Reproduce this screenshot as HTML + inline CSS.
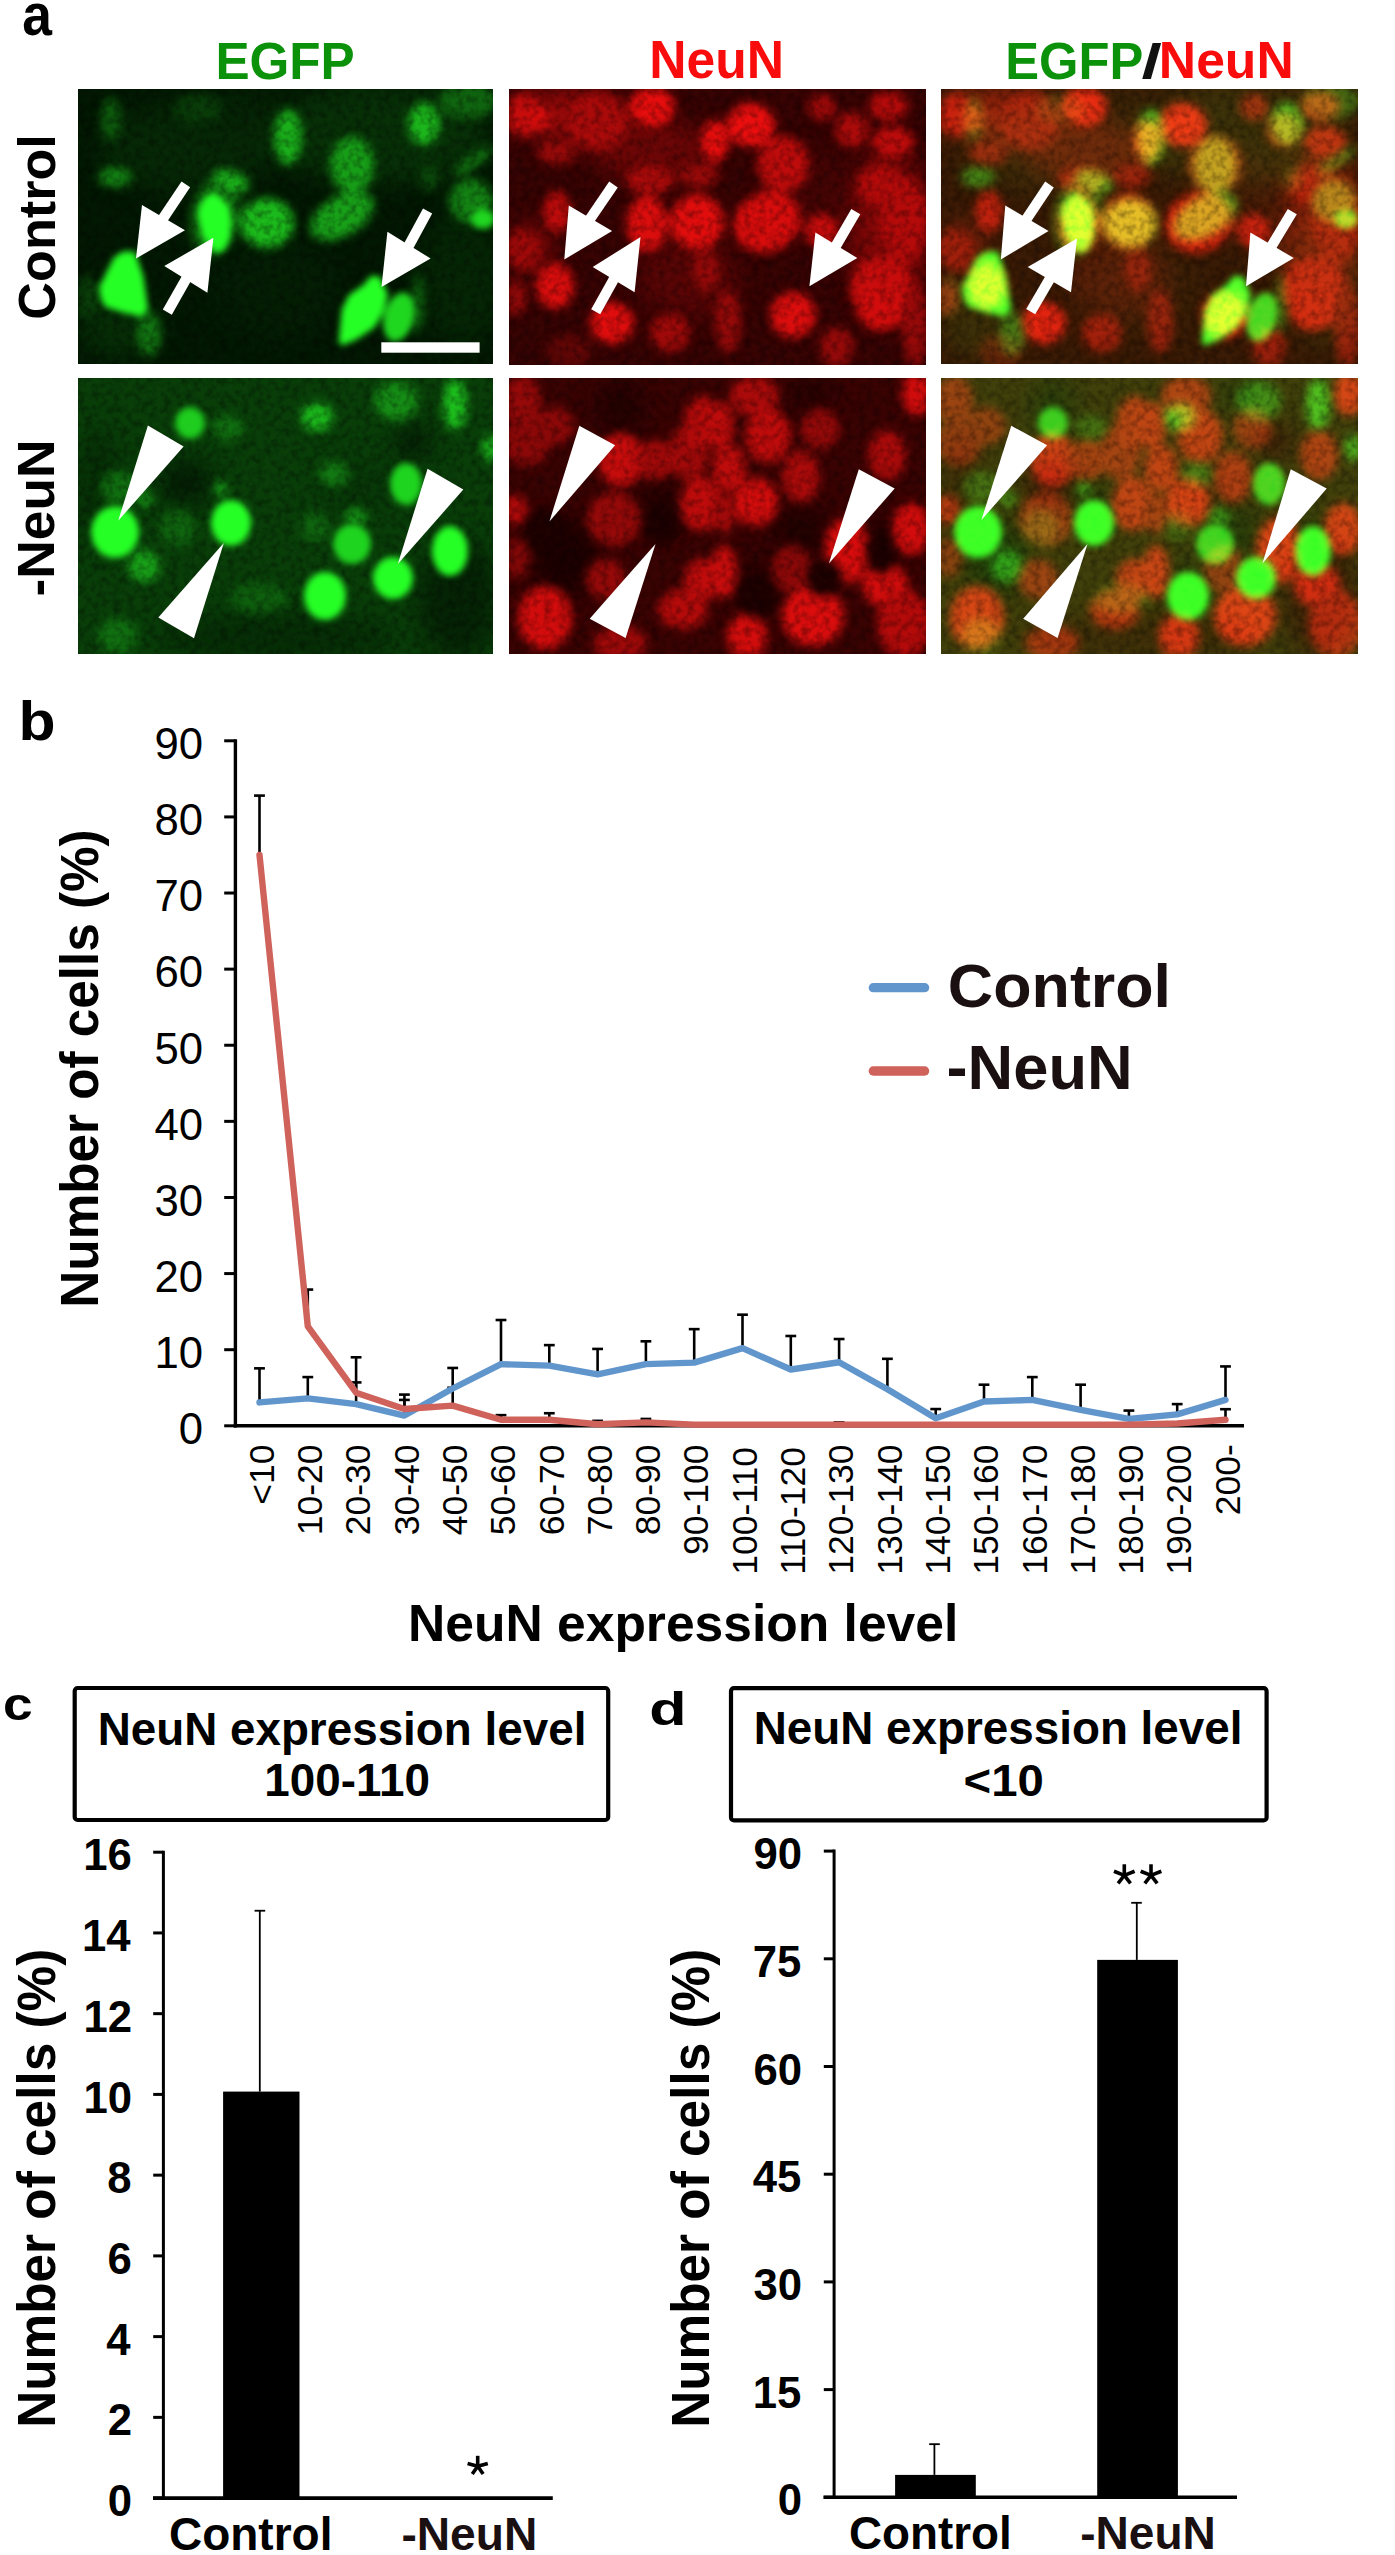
<!DOCTYPE html>
<html><head><meta charset="utf-8"><title>figure</title>
<style>html,body{margin:0;padding:0;background:#fff}body{width:1395px;height:2555px;overflow:hidden}svg{display:block}text{font-family:"Liberation Sans",sans-serif}</style>
</head><body>
<svg width="1395" height="2555" viewBox="0 0 1395 2555">
<rect width="1395" height="2555" fill="#fff"/>
<defs>
<filter id="blurS" x="-20%" y="-20%" width="140%" height="140%" color-interpolation-filters="sRGB"><feGaussianBlur stdDeviation="3.2"/></filter>
<filter id="blurM" x="-20%" y="-20%" width="140%" height="140%" color-interpolation-filters="sRGB"><feGaussianBlur stdDeviation="5"/></filter>
<filter id="blurL" x="-50%" y="-50%" width="200%" height="200%" color-interpolation-filters="sRGB"><feGaussianBlur stdDeviation="12"/></filter>
<filter id="tex" x="0" y="0" width="100%" height="100%"><feTurbulence type="fractalNoise" baseFrequency="0.14" numOctaves="2" seed="5"/><feColorMatrix type="matrix" values="0 0 0 0 0  0 0 0 0 0  0 0 0 0 0  0 0 0 -2.2 1.35"/></filter>
<clipPath id="cp1"><rect x="0" y="0" width="415" height="275"/></clipPath>
<clipPath id="cp2"><rect x="0" y="0" width="417" height="276"/></clipPath>
<clipPath id="cp3"><rect x="0" y="0" width="417" height="275"/></clipPath>
<clipPath id="cp4"><rect x="0" y="0" width="415" height="276"/></clipPath>
</defs>
<g transform="translate(78,89)" clip-path="url(#cp1)"><g><rect x="-10" y="-10" width="435" height="295" fill="rgb(3,24,3)"/>
<g filter="url(#blurL)">
<ellipse cx="110.0" cy="60.0" rx="90.0" ry="45.0" fill="rgb(6,40,6)"/>
<ellipse cx="300.0" cy="45.0" rx="110.0" ry="50.0" fill="rgb(7,48,7)"/>
<ellipse cx="385.0" cy="190.0" rx="40.0" ry="70.0" fill="rgb(5,38,5)"/>
<ellipse cx="40.0" cy="240.0" rx="40.0" ry="30.0" fill="rgb(6,45,6)"/>
<ellipse cx="200.0" cy="200.0" rx="60.0" ry="50.0" fill="rgb(4,30,4)"/>
<ellipse cx="160.0" cy="20.0" rx="60.0" ry="20.0" fill="rgb(5,35,5)"/>
</g><g filter="url(#blurM)">
<ellipse cx="137.0" cy="128.0" rx="24.0" ry="40.0" fill="rgb(16,110,16)" transform="rotate(10 137.0 128.0)"/>
<ellipse cx="153.0" cy="92.0" rx="19.0" ry="10.0" fill="rgb(26,175,26)" transform="rotate(20 153.0 92.0)"/>
<ellipse cx="189.0" cy="134.0" rx="27.0" ry="25.0" fill="rgb(27,185,27)"/>
<ellipse cx="210.0" cy="48.0" rx="14.0" ry="28.0" fill="rgb(26,175,26)"/>
<ellipse cx="274.0" cy="76.0" rx="22.0" ry="28.0" fill="rgb(23,158,23)"/>
<ellipse cx="264.0" cy="127.0" rx="35.0" ry="20.0" fill="rgb(24,160,24)" transform="rotate(-30 264.0 127.0)"/>
<ellipse cx="346.0" cy="35.0" rx="16.0" ry="21.0" fill="rgb(27,182,27)"/>
<ellipse cx="390.0" cy="12.0" rx="30.0" ry="18.0" fill="rgb(15,100,15)"/>
<ellipse cx="393.0" cy="112.0" rx="22.0" ry="22.0" fill="rgb(19,130,19)"/>
<ellipse cx="37.0" cy="88.0" rx="17.0" ry="10.0" fill="rgb(19,130,19)"/>
<ellipse cx="71.0" cy="245.0" rx="12.0" ry="22.0" fill="rgb(17,115,17)"/>
<ellipse cx="340.0" cy="215.0" rx="6.0" ry="30.0" fill="rgb(15,100,15)"/>
<ellipse cx="120.0" cy="20.0" rx="25.0" ry="15.0" fill="rgb(9,60,9)"/>
<ellipse cx="10.0" cy="208.0" rx="12.0" ry="22.0" fill="rgb(9,60,9)"/>
<ellipse cx="33.0" cy="30.0" rx="10.0" ry="22.0" fill="rgb(13,90,13)"/>
<ellipse cx="395.0" cy="72.0" rx="24.0" ry="7.0" fill="rgb(16,110,16)" transform="rotate(-35 395.0 72.0)"/>
<ellipse cx="352.0" cy="88.0" rx="10.0" ry="14.0" fill="rgb(10,70,10)"/>
</g>
<rect x="0" y="0" width="417" height="276" filter="url(#tex)" opacity="0.32"/>
<g filter="url(#blurS)">
<ellipse cx="405.0" cy="130.0" rx="12.0" ry="10.0" fill="rgb(32,215,32)"/>
<ellipse cx="321.0" cy="228.0" rx="15.0" ry="25.0" fill="rgb(32,215,32)" transform="rotate(15 321.0 228.0)"/>
<polygon points="20.9,198.3 35.8,168.5 44.7,162.5 56.7,162.5 59.6,170.0 65.6,187.9 70.1,220.7 64.1,228.1 44.7,223.6 26.8,217.7 22.4,208.7" fill="rgb(38,255,38)"/>
<polygon points="119.3,123.8 123.8,111.8 134.2,102.9 141.6,107.4 150.6,116.3 153.6,131.2 152.1,149.1 146.1,161.0 138.7,164.0 131.2,158.0 123.8,146.1" fill="rgb(38,255,38)"/>
<polygon points="260.7,253.5 263.7,220.7 271.1,205.8 284.5,196.8 293.5,186.4 302.4,187.9 309.9,205.8 305.4,223.6 296.5,238.6 278.6,250.5 263.7,256.4" fill="rgb(38,255,38)"/>
</g></g><polygon points="58.0,169.6 64.0,116.0 107.0,141.3" fill="#fff"/><polygon points="87.6,134.9 112.1,98.3 103.5,92.5 79.0,129.1" fill="#fff"/><polygon points="135.4,148.8 86.3,177.0 129.4,203.8" fill="#fff"/><polygon points="105.3,184.4 84.8,220.5 93.8,225.7 114.3,189.5" fill="#fff"/><polygon points="303.5,197.9 309.4,142.8 352.6,169.6" fill="#fff"/><polygon points="333.7,162.2 354.2,124.5 345.0,119.5 324.5,157.2" fill="#fff"/><rect x="303.3" y="253.3" width="98.3" height="10.4" fill="#fff"/></g>
<g transform="translate(509,89)" clip-path="url(#cp2)"><g><rect x="-10" y="-10" width="437" height="296" fill="rgb(55,3,3)"/>
<g filter="url(#blurL)">
<ellipse cx="60.0" cy="25.0" rx="60.0" ry="25.0" fill="rgb(150,9,9)"/>
<ellipse cx="140.0" cy="60.0" rx="60.0" ry="30.0" fill="rgb(110,6,6)"/>
<ellipse cx="300.0" cy="100.0" rx="40.0" ry="40.0" fill="rgb(70,4,4)"/>
<ellipse cx="180.0" cy="190.0" rx="50.0" ry="40.0" fill="rgb(90,5,5)"/>
<ellipse cx="380.0" cy="140.0" rx="40.0" ry="80.0" fill="rgb(130,7,7)"/>
<ellipse cx="20.0" cy="160.0" rx="25.0" ry="25.0" fill="rgb(120,7,7)"/>
</g><g filter="url(#blurM)">
<ellipse cx="15.0" cy="26.0" rx="17.0" ry="21.0" fill="rgb(200,12,12)"/>
<ellipse cx="33.0" cy="30.0" rx="8.0" ry="10.0" fill="rgb(230,13,13)"/>
<ellipse cx="88.0" cy="33.0" rx="30.0" ry="28.0" fill="rgb(170,10,10)"/>
<ellipse cx="143.0" cy="18.0" rx="23.0" ry="20.0" fill="rgb(230,13,13)"/>
<ellipse cx="206.0" cy="52.0" rx="14.0" ry="21.0" fill="rgb(230,13,13)"/>
<ellipse cx="48.0" cy="63.0" rx="20.0" ry="13.0" fill="rgb(150,9,9)"/>
<ellipse cx="48.0" cy="123.0" rx="14.0" ry="21.0" fill="rgb(190,11,11)"/>
<ellipse cx="138.0" cy="135.0" rx="21.0" ry="28.0" fill="rgb(220,13,13)"/>
<ellipse cx="188.0" cy="133.0" rx="27.0" ry="28.0" fill="rgb(225,13,13)"/>
<ellipse cx="141.0" cy="91.0" rx="24.0" ry="15.0" fill="rgb(170,10,10)"/>
<ellipse cx="190.0" cy="86.0" rx="20.0" ry="13.0" fill="rgb(150,9,9)"/>
<ellipse cx="15.0" cy="160.0" rx="17.0" ry="20.0" fill="rgb(160,9,9)"/>
<ellipse cx="46.0" cy="197.0" rx="19.0" ry="23.0" fill="rgb(220,13,13)"/>
<ellipse cx="103.0" cy="234.0" rx="22.0" ry="21.0" fill="rgb(225,13,13)"/>
<ellipse cx="7.0" cy="209.0" rx="10.0" ry="17.0" fill="rgb(150,9,9)"/>
<ellipse cx="161.0" cy="244.0" rx="20.0" ry="19.0" fill="rgb(160,9,9)"/>
<ellipse cx="197.0" cy="182.0" rx="13.0" ry="20.0" fill="rgb(150,9,9)"/>
<ellipse cx="242.0" cy="36.0" rx="24.0" ry="22.0" fill="rgb(235,14,14)"/>
<ellipse cx="274.0" cy="75.0" rx="26.0" ry="28.0" fill="rgb(190,11,11)"/>
<ellipse cx="258.0" cy="133.0" rx="35.0" ry="30.0" fill="rgb(215,12,12)" transform="rotate(-25 258.0 133.0)"/>
<ellipse cx="379.0" cy="17.0" rx="20.0" ry="15.0" fill="rgb(180,10,10)"/>
<ellipse cx="313.0" cy="18.0" rx="14.0" ry="13.0" fill="rgb(160,9,9)"/>
<ellipse cx="343.0" cy="41.0" rx="17.0" ry="18.0" fill="rgb(170,10,10)"/>
<ellipse cx="384.0" cy="53.0" rx="21.0" ry="16.0" fill="rgb(190,11,11)"/>
<ellipse cx="369.0" cy="95.0" rx="21.0" ry="19.0" fill="rgb(180,10,10)" transform="rotate(-30 369.0 95.0)"/>
<ellipse cx="395.0" cy="131.0" rx="24.0" ry="43.0" fill="rgb(180,10,10)"/>
<ellipse cx="313.0" cy="142.0" rx="17.0" ry="17.0" fill="rgb(200,12,12)"/>
<ellipse cx="373.0" cy="200.0" rx="32.0" ry="32.0" fill="rgb(200,12,12)"/>
<ellipse cx="372.0" cy="221.0" rx="24.0" ry="21.0" fill="rgb(210,12,12)"/>
<ellipse cx="284.0" cy="226.0" rx="23.0" ry="23.0" fill="rgb(220,13,13)" transform="rotate(-30 284.0 226.0)"/>
<ellipse cx="219.0" cy="232.0" rx="13.0" ry="32.0" fill="rgb(150,9,9)"/>
<ellipse cx="328.0" cy="258.0" rx="17.0" ry="20.0" fill="rgb(150,9,9)"/>
<ellipse cx="406.0" cy="236.0" rx="13.0" ry="42.0" fill="rgb(150,9,9)"/>
<ellipse cx="60.0" cy="262.0" rx="22.0" ry="16.0" fill="rgb(100,6,6)"/>
</g>
<rect x="0" y="0" width="417" height="276" filter="url(#tex)" opacity="0.32"/></g><polygon points="55.3,170.4 59.8,116.6 103.1,142.0" fill="#fff"/><polygon points="83.5,135.5 108.8,98.4 100.2,92.6 74.9,129.7" fill="#fff"/><polygon points="131.5,148.0 83.7,177.9 125.6,203.3" fill="#fff"/><polygon points="102.1,184.6 82.2,220.2 91.2,225.2 111.1,189.6" fill="#fff"/><polygon points="300.4,197.3 306.4,143.5 348.3,168.9" fill="#fff"/><polygon points="329.8,162.3 351.3,125.2 342.3,120.0 320.8,157.1" fill="#fff"/></g>
<g transform="translate(941,89)" clip-path="url(#cp3)"><g style="isolation:isolate"><g><rect x="-10" y="-10" width="437" height="296" fill="rgb(55,3,3)"/>
<g filter="url(#blurL)">
<ellipse cx="60.0" cy="25.0" rx="60.0" ry="25.0" fill="rgb(150,9,9)"/>
<ellipse cx="140.0" cy="60.0" rx="60.0" ry="30.0" fill="rgb(110,6,6)"/>
<ellipse cx="300.0" cy="100.0" rx="40.0" ry="40.0" fill="rgb(70,4,4)"/>
<ellipse cx="180.0" cy="190.0" rx="50.0" ry="40.0" fill="rgb(90,5,5)"/>
<ellipse cx="380.0" cy="140.0" rx="40.0" ry="80.0" fill="rgb(130,7,7)"/>
<ellipse cx="20.0" cy="160.0" rx="25.0" ry="25.0" fill="rgb(120,7,7)"/>
</g><g filter="url(#blurM)">
<ellipse cx="15.0" cy="26.0" rx="17.0" ry="21.0" fill="rgb(200,12,12)"/>
<ellipse cx="33.0" cy="30.0" rx="8.0" ry="10.0" fill="rgb(230,13,13)"/>
<ellipse cx="88.0" cy="33.0" rx="30.0" ry="28.0" fill="rgb(170,10,10)"/>
<ellipse cx="143.0" cy="18.0" rx="23.0" ry="20.0" fill="rgb(230,13,13)"/>
<ellipse cx="206.0" cy="52.0" rx="14.0" ry="21.0" fill="rgb(230,13,13)"/>
<ellipse cx="48.0" cy="63.0" rx="20.0" ry="13.0" fill="rgb(150,9,9)"/>
<ellipse cx="48.0" cy="123.0" rx="14.0" ry="21.0" fill="rgb(190,11,11)"/>
<ellipse cx="138.0" cy="135.0" rx="21.0" ry="28.0" fill="rgb(220,13,13)"/>
<ellipse cx="188.0" cy="133.0" rx="27.0" ry="28.0" fill="rgb(225,13,13)"/>
<ellipse cx="141.0" cy="91.0" rx="24.0" ry="15.0" fill="rgb(170,10,10)"/>
<ellipse cx="190.0" cy="86.0" rx="20.0" ry="13.0" fill="rgb(150,9,9)"/>
<ellipse cx="15.0" cy="160.0" rx="17.0" ry="20.0" fill="rgb(160,9,9)"/>
<ellipse cx="46.0" cy="197.0" rx="19.0" ry="23.0" fill="rgb(220,13,13)"/>
<ellipse cx="103.0" cy="234.0" rx="22.0" ry="21.0" fill="rgb(225,13,13)"/>
<ellipse cx="7.0" cy="209.0" rx="10.0" ry="17.0" fill="rgb(150,9,9)"/>
<ellipse cx="161.0" cy="244.0" rx="20.0" ry="19.0" fill="rgb(160,9,9)"/>
<ellipse cx="197.0" cy="182.0" rx="13.0" ry="20.0" fill="rgb(150,9,9)"/>
<ellipse cx="242.0" cy="36.0" rx="24.0" ry="22.0" fill="rgb(235,14,14)"/>
<ellipse cx="274.0" cy="75.0" rx="26.0" ry="28.0" fill="rgb(190,11,11)"/>
<ellipse cx="258.0" cy="133.0" rx="35.0" ry="30.0" fill="rgb(215,12,12)" transform="rotate(-25 258.0 133.0)"/>
<ellipse cx="379.0" cy="17.0" rx="20.0" ry="15.0" fill="rgb(180,10,10)"/>
<ellipse cx="313.0" cy="18.0" rx="14.0" ry="13.0" fill="rgb(160,9,9)"/>
<ellipse cx="343.0" cy="41.0" rx="17.0" ry="18.0" fill="rgb(170,10,10)"/>
<ellipse cx="384.0" cy="53.0" rx="21.0" ry="16.0" fill="rgb(190,11,11)"/>
<ellipse cx="369.0" cy="95.0" rx="21.0" ry="19.0" fill="rgb(180,10,10)" transform="rotate(-30 369.0 95.0)"/>
<ellipse cx="395.0" cy="131.0" rx="24.0" ry="43.0" fill="rgb(180,10,10)"/>
<ellipse cx="313.0" cy="142.0" rx="17.0" ry="17.0" fill="rgb(200,12,12)"/>
<ellipse cx="373.0" cy="200.0" rx="32.0" ry="32.0" fill="rgb(200,12,12)"/>
<ellipse cx="372.0" cy="221.0" rx="24.0" ry="21.0" fill="rgb(210,12,12)"/>
<ellipse cx="284.0" cy="226.0" rx="23.0" ry="23.0" fill="rgb(220,13,13)" transform="rotate(-30 284.0 226.0)"/>
<ellipse cx="219.0" cy="232.0" rx="13.0" ry="32.0" fill="rgb(150,9,9)"/>
<ellipse cx="328.0" cy="258.0" rx="17.0" ry="20.0" fill="rgb(150,9,9)"/>
<ellipse cx="406.0" cy="236.0" rx="13.0" ry="42.0" fill="rgb(150,9,9)"/>
<ellipse cx="60.0" cy="262.0" rx="22.0" ry="16.0" fill="rgb(100,6,6)"/>
</g>
<rect x="0" y="0" width="417" height="276" filter="url(#tex)" opacity="0.32"/></g><g style="mix-blend-mode:screen"><rect x="-10" y="-10" width="435" height="295" fill="rgb(3,24,3)"/>
<g filter="url(#blurL)">
<ellipse cx="110.0" cy="60.0" rx="90.0" ry="45.0" fill="rgb(6,40,6)"/>
<ellipse cx="300.0" cy="45.0" rx="110.0" ry="50.0" fill="rgb(7,48,7)"/>
<ellipse cx="385.0" cy="190.0" rx="40.0" ry="70.0" fill="rgb(5,38,5)"/>
<ellipse cx="40.0" cy="240.0" rx="40.0" ry="30.0" fill="rgb(6,45,6)"/>
<ellipse cx="200.0" cy="200.0" rx="60.0" ry="50.0" fill="rgb(4,30,4)"/>
<ellipse cx="160.0" cy="20.0" rx="60.0" ry="20.0" fill="rgb(5,35,5)"/>
</g><g filter="url(#blurM)">
<ellipse cx="137.0" cy="128.0" rx="24.0" ry="40.0" fill="rgb(16,110,16)" transform="rotate(10 137.0 128.0)"/>
<ellipse cx="153.0" cy="92.0" rx="19.0" ry="10.0" fill="rgb(26,175,26)" transform="rotate(20 153.0 92.0)"/>
<ellipse cx="189.0" cy="134.0" rx="27.0" ry="25.0" fill="rgb(27,185,27)"/>
<ellipse cx="210.0" cy="48.0" rx="14.0" ry="28.0" fill="rgb(26,175,26)"/>
<ellipse cx="274.0" cy="76.0" rx="22.0" ry="28.0" fill="rgb(23,158,23)"/>
<ellipse cx="264.0" cy="127.0" rx="35.0" ry="20.0" fill="rgb(24,160,24)" transform="rotate(-30 264.0 127.0)"/>
<ellipse cx="346.0" cy="35.0" rx="16.0" ry="21.0" fill="rgb(27,182,27)"/>
<ellipse cx="390.0" cy="12.0" rx="30.0" ry="18.0" fill="rgb(15,100,15)"/>
<ellipse cx="393.0" cy="112.0" rx="22.0" ry="22.0" fill="rgb(19,130,19)"/>
<ellipse cx="37.0" cy="88.0" rx="17.0" ry="10.0" fill="rgb(19,130,19)"/>
<ellipse cx="71.0" cy="245.0" rx="12.0" ry="22.0" fill="rgb(17,115,17)"/>
<ellipse cx="340.0" cy="215.0" rx="6.0" ry="30.0" fill="rgb(15,100,15)"/>
<ellipse cx="120.0" cy="20.0" rx="25.0" ry="15.0" fill="rgb(9,60,9)"/>
<ellipse cx="10.0" cy="208.0" rx="12.0" ry="22.0" fill="rgb(9,60,9)"/>
<ellipse cx="33.0" cy="30.0" rx="10.0" ry="22.0" fill="rgb(13,90,13)"/>
<ellipse cx="395.0" cy="72.0" rx="24.0" ry="7.0" fill="rgb(16,110,16)" transform="rotate(-35 395.0 72.0)"/>
<ellipse cx="352.0" cy="88.0" rx="10.0" ry="14.0" fill="rgb(10,70,10)"/>
</g>
<rect x="0" y="0" width="417" height="276" filter="url(#tex)" opacity="0.32"/>
<g filter="url(#blurS)">
<ellipse cx="405.0" cy="130.0" rx="12.0" ry="10.0" fill="rgb(32,215,32)"/>
<ellipse cx="321.0" cy="228.0" rx="15.0" ry="25.0" fill="rgb(32,215,32)" transform="rotate(15 321.0 228.0)"/>
<polygon points="20.9,198.3 35.8,168.5 44.7,162.5 56.7,162.5 59.6,170.0 65.6,187.9 70.1,220.7 64.1,228.1 44.7,223.6 26.8,217.7 22.4,208.7" fill="rgb(38,255,38)"/>
<polygon points="119.3,123.8 123.8,111.8 134.2,102.9 141.6,107.4 150.6,116.3 153.6,131.2 152.1,149.1 146.1,161.0 138.7,164.0 131.2,158.0 123.8,146.1" fill="rgb(38,255,38)"/>
<polygon points="260.7,253.5 263.7,220.7 271.1,205.8 284.5,196.8 293.5,186.4 302.4,187.9 309.9,205.8 305.4,223.6 296.5,238.6 278.6,250.5 263.7,256.4" fill="rgb(38,255,38)"/>
</g></g></g><polygon points="59.8,170.4 64.3,116.6 107.6,142.0" fill="#fff"/><polygon points="88.1,135.5 112.8,98.4 104.2,92.6 79.4,129.7" fill="#fff"/><polygon points="136.0,149.5 86.7,177.9 130.0,203.3" fill="#fff"/><polygon points="105.9,184.5 85.2,220.1 94.2,225.3 114.9,189.8" fill="#fff"/><polygon points="305.0,197.3 309.4,143.5 352.8,168.9" fill="#fff"/><polygon points="333.5,162.3 355.8,125.3 346.8,119.9 324.6,156.9" fill="#fff"/></g>
<g transform="translate(78,378)" clip-path="url(#cp4)"><g><rect x="-10" y="-10" width="435" height="296" fill="rgb(9,62,9)"/>
<g filter="url(#blurL)">
<ellipse cx="108.0" cy="104.0" rx="26.0" ry="22.0" fill="rgb(4,28,4)"/>
<ellipse cx="380.0" cy="220.0" rx="40.0" ry="60.0" fill="rgb(5,35,5)"/>
<ellipse cx="200.0" cy="260.0" rx="120.0" ry="25.0" fill="rgb(6,45,6)"/>
<ellipse cx="20.0" cy="110.0" rx="20.0" ry="60.0" fill="rgb(6,45,6)"/>
<ellipse cx="335.0" cy="64.0" rx="14.0" ry="18.0" fill="rgb(3,20,3)"/>
<ellipse cx="280.0" cy="110.0" rx="40.0" ry="30.0" fill="rgb(8,55,8)"/>
</g><g filter="url(#blurM)">
<ellipse cx="66.0" cy="188.0" rx="16.0" ry="16.0" fill="rgb(24,160,24)"/>
<ellipse cx="150.0" cy="50.0" rx="16.0" ry="13.0" fill="rgb(16,110,16)"/>
<ellipse cx="41.0" cy="110.0" rx="19.0" ry="17.0" fill="rgb(16,110,16)"/>
<ellipse cx="67.0" cy="121.0" rx="8.0" ry="9.0" fill="rgb(21,140,21)"/>
<ellipse cx="100.0" cy="150.0" rx="18.0" ry="18.0" fill="rgb(15,100,15)"/>
<ellipse cx="143.0" cy="111.0" rx="6.0" ry="8.0" fill="rgb(24,160,24)"/>
<ellipse cx="40.0" cy="258.0" rx="20.0" ry="18.0" fill="rgb(16,110,16)"/>
<ellipse cx="180.0" cy="220.0" rx="30.0" ry="15.0" fill="rgb(14,95,14)"/>
<ellipse cx="239.0" cy="39.0" rx="16.0" ry="14.0" fill="rgb(27,185,27)"/>
<ellipse cx="318.0" cy="23.0" rx="22.0" ry="20.0" fill="rgb(21,140,21)"/>
<ellipse cx="377.0" cy="26.0" rx="12.0" ry="26.0" fill="rgb(28,190,28)"/>
<ellipse cx="278.0" cy="139.0" rx="11.0" ry="9.0" fill="rgb(22,150,22)"/>
<ellipse cx="412.0" cy="70.0" rx="8.0" ry="13.0" fill="rgb(27,180,27)"/>
<ellipse cx="256.0" cy="96.0" rx="15.0" ry="13.0" fill="rgb(18,120,18)"/>
<ellipse cx="237.0" cy="149.0" rx="15.0" ry="15.0" fill="rgb(15,100,15)"/>
</g>
<rect x="0" y="0" width="417" height="276" filter="url(#tex)" opacity="0.32"/>
<g filter="url(#blurS)">
<ellipse cx="37.0" cy="154.0" rx="24.0" ry="26.0" fill="rgb(38,255,38)"/>
<ellipse cx="153.0" cy="145.0" rx="20.0" ry="23.0" fill="rgb(38,255,38)"/>
<ellipse cx="112.0" cy="45.0" rx="15.0" ry="16.0" fill="rgb(30,205,30)"/>
<ellipse cx="328.0" cy="106.0" rx="16.0" ry="21.0" fill="rgb(31,212,31)"/>
<ellipse cx="274.0" cy="166.0" rx="19.0" ry="20.0" fill="rgb(31,212,31)"/>
<ellipse cx="247.0" cy="218.0" rx="21.0" ry="24.0" fill="rgb(38,255,38)"/>
<ellipse cx="315.0" cy="200.0" rx="20.0" ry="21.0" fill="rgb(38,255,38)"/>
<ellipse cx="372.0" cy="173.0" rx="18.0" ry="25.0" fill="rgb(38,255,38)"/>
</g></g><polygon points="69.9,47.6 105.6,68.4 40.2,142.8" fill="#fff"/><polygon points="80.3,239.5 116.0,260.3 145.8,165.1" fill="#fff"/><polygon points="349.6,90.7 385.3,111.6 319.8,186.0" fill="#fff"/></g>
<g transform="translate(509,378)" clip-path="url(#cp2)"><g><rect x="-10" y="-10" width="437" height="296" fill="rgb(58,3,3)"/>
<g filter="url(#blurL)">
<ellipse cx="56.0" cy="180.0" rx="34.0" ry="37.0" fill="rgb(28,1,1)"/>
<ellipse cx="112.0" cy="30.0" rx="22.0" ry="30.0" fill="rgb(35,2,2)"/>
<ellipse cx="149.0" cy="123.0" rx="22.0" ry="26.0" fill="rgb(40,2,2)"/>
<ellipse cx="292.0" cy="155.0" rx="27.0" ry="31.0" fill="rgb(35,2,2)"/>
<ellipse cx="376.0" cy="161.0" rx="18.0" ry="26.0" fill="rgb(40,2,2)"/>
<ellipse cx="249.0" cy="210.0" rx="26.0" ry="30.0" fill="rgb(40,2,2)"/>
<ellipse cx="300.0" cy="15.0" rx="25.0" ry="18.0" fill="rgb(40,2,2)"/>
</g><g filter="url(#blurM)">
<ellipse cx="13.0" cy="22.0" rx="19.0" ry="24.0" fill="rgb(150,9,9)"/>
<ellipse cx="45.0" cy="48.0" rx="20.0" ry="19.0" fill="rgb(140,8,8)"/>
<ellipse cx="18.0" cy="64.0" rx="23.0" ry="24.0" fill="rgb(140,8,8)"/>
<ellipse cx="112.0" cy="82.0" rx="23.0" ry="27.0" fill="rgb(200,12,12)"/>
<ellipse cx="146.0" cy="82.0" rx="20.0" ry="20.0" fill="rgb(160,9,9)"/>
<ellipse cx="179.0" cy="75.0" rx="20.0" ry="27.0" fill="rgb(160,9,9)"/>
<ellipse cx="194.0" cy="45.0" rx="19.0" ry="27.0" fill="rgb(180,10,10)"/>
<ellipse cx="192.0" cy="126.0" rx="21.0" ry="27.0" fill="rgb(190,11,11)"/>
<ellipse cx="105.0" cy="141.0" rx="27.0" ry="27.0" fill="rgb(150,9,9)"/>
<ellipse cx="6.0" cy="132.0" rx="12.0" ry="15.0" fill="rgb(180,10,10)"/>
<ellipse cx="36.0" cy="240.0" rx="27.0" ry="32.0" fill="rgb(210,12,12)"/>
<ellipse cx="97.0" cy="201.0" rx="20.0" ry="20.0" fill="rgb(150,9,9)"/>
<ellipse cx="174.0" cy="231.0" rx="25.0" ry="20.0" fill="rgb(180,10,10)"/>
<ellipse cx="194.0" cy="201.0" rx="19.0" ry="20.0" fill="rgb(190,11,11)"/>
<ellipse cx="111.0" cy="265.0" rx="27.0" ry="17.0" fill="rgb(160,9,9)"/>
<ellipse cx="8.0" cy="180.0" rx="13.0" ry="20.0" fill="rgb(130,7,7)"/>
<ellipse cx="245.0" cy="18.0" rx="25.0" ry="20.0" fill="rgb(170,10,10)"/>
<ellipse cx="212.0" cy="48.0" rx="13.0" ry="23.0" fill="rgb(190,11,11)"/>
<ellipse cx="259.0" cy="58.0" rx="23.0" ry="27.0" fill="rgb(190,11,11)"/>
<ellipse cx="220.0" cy="90.0" rx="17.0" ry="23.0" fill="rgb(190,11,11)"/>
<ellipse cx="292.0" cy="99.0" rx="19.0" ry="26.0" fill="rgb(170,10,10)"/>
<ellipse cx="311.0" cy="51.0" rx="19.0" ry="20.0" fill="rgb(150,9,9)"/>
<ellipse cx="247.0" cy="124.0" rx="22.0" ry="24.0" fill="rgb(210,12,12)"/>
<ellipse cx="215.0" cy="135.0" rx="13.0" ry="20.0" fill="rgb(160,9,9)"/>
<ellipse cx="378.0" cy="77.0" rx="19.0" ry="25.0" fill="rgb(170,10,10)"/>
<ellipse cx="408.0" cy="16.0" rx="15.0" ry="22.0" fill="rgb(210,12,12)"/>
<ellipse cx="338.0" cy="172.0" rx="23.0" ry="33.0" fill="rgb(215,12,12)"/>
<ellipse cx="402.0" cy="151.0" rx="19.0" ry="26.0" fill="rgb(210,12,12)"/>
<ellipse cx="376.0" cy="207.0" rx="23.0" ry="22.0" fill="rgb(210,12,12)"/>
<ellipse cx="215.0" cy="194.0" rx="13.0" ry="27.0" fill="rgb(200,12,12)"/>
<ellipse cx="304.0" cy="238.0" rx="31.0" ry="30.0" fill="rgb(220,13,13)"/>
<ellipse cx="238.0" cy="258.0" rx="20.0" ry="23.0" fill="rgb(210,12,12)"/>
<ellipse cx="395.0" cy="246.0" rx="27.0" ry="34.0" fill="rgb(180,10,10)"/>
<ellipse cx="283.0" cy="191.0" rx="20.0" ry="24.0" fill="rgb(140,8,8)"/>
<ellipse cx="37.0" cy="154.0" rx="22.0" ry="24.0" fill="rgb(30,1,1)"/>
<ellipse cx="153.0" cy="145.0" rx="19.0" ry="21.0" fill="rgb(30,1,1)"/>
<ellipse cx="247.0" cy="218.0" rx="19.0" ry="22.0" fill="rgb(30,1,1)"/>
<ellipse cx="315.0" cy="200.0" rx="18.0" ry="19.0" fill="rgb(30,1,1)"/>
<ellipse cx="372.0" cy="173.0" rx="16.0" ry="23.0" fill="rgb(30,1,1)"/>
</g>
<rect x="0" y="0" width="417" height="276" filter="url(#tex)" opacity="0.32"/></g><polygon points="70.3,47.8 106.1,67.3 40.4,143.5" fill="#fff"/><polygon points="80.7,240.7 116.6,260.1 146.5,165.9" fill="#fff"/><polygon points="349.8,91.2 385.7,110.6 319.9,185.4" fill="#fff"/></g>
<g transform="translate(941,378)" clip-path="url(#cp2)"><g style="isolation:isolate"><g><rect x="-10" y="-10" width="437" height="296" fill="rgb(58,3,3)"/>
<g filter="url(#blurL)">
<ellipse cx="56.0" cy="180.0" rx="34.0" ry="37.0" fill="rgb(28,1,1)"/>
<ellipse cx="112.0" cy="30.0" rx="22.0" ry="30.0" fill="rgb(35,2,2)"/>
<ellipse cx="149.0" cy="123.0" rx="22.0" ry="26.0" fill="rgb(40,2,2)"/>
<ellipse cx="292.0" cy="155.0" rx="27.0" ry="31.0" fill="rgb(35,2,2)"/>
<ellipse cx="376.0" cy="161.0" rx="18.0" ry="26.0" fill="rgb(40,2,2)"/>
<ellipse cx="249.0" cy="210.0" rx="26.0" ry="30.0" fill="rgb(40,2,2)"/>
<ellipse cx="300.0" cy="15.0" rx="25.0" ry="18.0" fill="rgb(40,2,2)"/>
</g><g filter="url(#blurM)">
<ellipse cx="13.0" cy="22.0" rx="19.0" ry="24.0" fill="rgb(150,9,9)"/>
<ellipse cx="45.0" cy="48.0" rx="20.0" ry="19.0" fill="rgb(140,8,8)"/>
<ellipse cx="18.0" cy="64.0" rx="23.0" ry="24.0" fill="rgb(140,8,8)"/>
<ellipse cx="112.0" cy="82.0" rx="23.0" ry="27.0" fill="rgb(200,12,12)"/>
<ellipse cx="146.0" cy="82.0" rx="20.0" ry="20.0" fill="rgb(160,9,9)"/>
<ellipse cx="179.0" cy="75.0" rx="20.0" ry="27.0" fill="rgb(160,9,9)"/>
<ellipse cx="194.0" cy="45.0" rx="19.0" ry="27.0" fill="rgb(180,10,10)"/>
<ellipse cx="192.0" cy="126.0" rx="21.0" ry="27.0" fill="rgb(190,11,11)"/>
<ellipse cx="105.0" cy="141.0" rx="27.0" ry="27.0" fill="rgb(150,9,9)"/>
<ellipse cx="6.0" cy="132.0" rx="12.0" ry="15.0" fill="rgb(180,10,10)"/>
<ellipse cx="36.0" cy="240.0" rx="27.0" ry="32.0" fill="rgb(210,12,12)"/>
<ellipse cx="97.0" cy="201.0" rx="20.0" ry="20.0" fill="rgb(150,9,9)"/>
<ellipse cx="174.0" cy="231.0" rx="25.0" ry="20.0" fill="rgb(180,10,10)"/>
<ellipse cx="194.0" cy="201.0" rx="19.0" ry="20.0" fill="rgb(190,11,11)"/>
<ellipse cx="111.0" cy="265.0" rx="27.0" ry="17.0" fill="rgb(160,9,9)"/>
<ellipse cx="8.0" cy="180.0" rx="13.0" ry="20.0" fill="rgb(130,7,7)"/>
<ellipse cx="245.0" cy="18.0" rx="25.0" ry="20.0" fill="rgb(170,10,10)"/>
<ellipse cx="212.0" cy="48.0" rx="13.0" ry="23.0" fill="rgb(190,11,11)"/>
<ellipse cx="259.0" cy="58.0" rx="23.0" ry="27.0" fill="rgb(190,11,11)"/>
<ellipse cx="220.0" cy="90.0" rx="17.0" ry="23.0" fill="rgb(190,11,11)"/>
<ellipse cx="292.0" cy="99.0" rx="19.0" ry="26.0" fill="rgb(170,10,10)"/>
<ellipse cx="311.0" cy="51.0" rx="19.0" ry="20.0" fill="rgb(150,9,9)"/>
<ellipse cx="247.0" cy="124.0" rx="22.0" ry="24.0" fill="rgb(210,12,12)"/>
<ellipse cx="215.0" cy="135.0" rx="13.0" ry="20.0" fill="rgb(160,9,9)"/>
<ellipse cx="378.0" cy="77.0" rx="19.0" ry="25.0" fill="rgb(170,10,10)"/>
<ellipse cx="408.0" cy="16.0" rx="15.0" ry="22.0" fill="rgb(210,12,12)"/>
<ellipse cx="338.0" cy="172.0" rx="23.0" ry="33.0" fill="rgb(215,12,12)"/>
<ellipse cx="402.0" cy="151.0" rx="19.0" ry="26.0" fill="rgb(210,12,12)"/>
<ellipse cx="376.0" cy="207.0" rx="23.0" ry="22.0" fill="rgb(210,12,12)"/>
<ellipse cx="215.0" cy="194.0" rx="13.0" ry="27.0" fill="rgb(200,12,12)"/>
<ellipse cx="304.0" cy="238.0" rx="31.0" ry="30.0" fill="rgb(220,13,13)"/>
<ellipse cx="238.0" cy="258.0" rx="20.0" ry="23.0" fill="rgb(210,12,12)"/>
<ellipse cx="395.0" cy="246.0" rx="27.0" ry="34.0" fill="rgb(180,10,10)"/>
<ellipse cx="283.0" cy="191.0" rx="20.0" ry="24.0" fill="rgb(140,8,8)"/>
<ellipse cx="37.0" cy="154.0" rx="22.0" ry="24.0" fill="rgb(30,1,1)"/>
<ellipse cx="153.0" cy="145.0" rx="19.0" ry="21.0" fill="rgb(30,1,1)"/>
<ellipse cx="247.0" cy="218.0" rx="19.0" ry="22.0" fill="rgb(30,1,1)"/>
<ellipse cx="315.0" cy="200.0" rx="18.0" ry="19.0" fill="rgb(30,1,1)"/>
<ellipse cx="372.0" cy="173.0" rx="16.0" ry="23.0" fill="rgb(30,1,1)"/>
</g>
<rect x="0" y="0" width="417" height="276" filter="url(#tex)" opacity="0.32"/></g><g style="mix-blend-mode:screen"><rect x="-10" y="-10" width="435" height="296" fill="rgb(9,62,9)"/>
<g filter="url(#blurL)">
<ellipse cx="108.0" cy="104.0" rx="26.0" ry="22.0" fill="rgb(4,28,4)"/>
<ellipse cx="380.0" cy="220.0" rx="40.0" ry="60.0" fill="rgb(5,35,5)"/>
<ellipse cx="200.0" cy="260.0" rx="120.0" ry="25.0" fill="rgb(6,45,6)"/>
<ellipse cx="20.0" cy="110.0" rx="20.0" ry="60.0" fill="rgb(6,45,6)"/>
<ellipse cx="335.0" cy="64.0" rx="14.0" ry="18.0" fill="rgb(3,20,3)"/>
<ellipse cx="280.0" cy="110.0" rx="40.0" ry="30.0" fill="rgb(8,55,8)"/>
</g><g filter="url(#blurM)">
<ellipse cx="66.0" cy="188.0" rx="16.0" ry="16.0" fill="rgb(24,160,24)"/>
<ellipse cx="150.0" cy="50.0" rx="16.0" ry="13.0" fill="rgb(16,110,16)"/>
<ellipse cx="41.0" cy="110.0" rx="19.0" ry="17.0" fill="rgb(16,110,16)"/>
<ellipse cx="67.0" cy="121.0" rx="8.0" ry="9.0" fill="rgb(21,140,21)"/>
<ellipse cx="100.0" cy="150.0" rx="18.0" ry="18.0" fill="rgb(15,100,15)"/>
<ellipse cx="143.0" cy="111.0" rx="6.0" ry="8.0" fill="rgb(24,160,24)"/>
<ellipse cx="40.0" cy="258.0" rx="20.0" ry="18.0" fill="rgb(16,110,16)"/>
<ellipse cx="180.0" cy="220.0" rx="30.0" ry="15.0" fill="rgb(14,95,14)"/>
<ellipse cx="239.0" cy="39.0" rx="16.0" ry="14.0" fill="rgb(27,185,27)"/>
<ellipse cx="318.0" cy="23.0" rx="22.0" ry="20.0" fill="rgb(21,140,21)"/>
<ellipse cx="377.0" cy="26.0" rx="12.0" ry="26.0" fill="rgb(28,190,28)"/>
<ellipse cx="278.0" cy="139.0" rx="11.0" ry="9.0" fill="rgb(22,150,22)"/>
<ellipse cx="412.0" cy="70.0" rx="8.0" ry="13.0" fill="rgb(27,180,27)"/>
<ellipse cx="256.0" cy="96.0" rx="15.0" ry="13.0" fill="rgb(18,120,18)"/>
<ellipse cx="237.0" cy="149.0" rx="15.0" ry="15.0" fill="rgb(15,100,15)"/>
</g>
<rect x="0" y="0" width="417" height="276" filter="url(#tex)" opacity="0.32"/>
<g filter="url(#blurS)">
<ellipse cx="37.0" cy="154.0" rx="24.0" ry="26.0" fill="rgb(38,255,38)"/>
<ellipse cx="153.0" cy="145.0" rx="20.0" ry="23.0" fill="rgb(38,255,38)"/>
<ellipse cx="112.0" cy="45.0" rx="15.0" ry="16.0" fill="rgb(30,205,30)"/>
<ellipse cx="328.0" cy="106.0" rx="16.0" ry="21.0" fill="rgb(31,212,31)"/>
<ellipse cx="274.0" cy="166.0" rx="19.0" ry="20.0" fill="rgb(31,212,31)"/>
<ellipse cx="247.0" cy="218.0" rx="21.0" ry="24.0" fill="rgb(38,255,38)"/>
<ellipse cx="315.0" cy="200.0" rx="20.0" ry="21.0" fill="rgb(38,255,38)"/>
<ellipse cx="372.0" cy="173.0" rx="18.0" ry="25.0" fill="rgb(38,255,38)"/>
</g></g></g><polygon points="70.3,47.8 106.1,67.3 40.4,142.0" fill="#fff"/><polygon points="82.2,240.7 116.6,260.1 146.5,165.9" fill="#fff"/><polygon points="349.8,91.2 385.7,110.6 321.4,185.4" fill="#fff"/></g>
<text transform="translate(22.13,35.12) scale(1,1.11)" font-size="53.45" font-weight="bold" fill="#000">a</text>
<text transform="translate(215.38,78.6) scale(1,1)" font-size="51.19" font-weight="bold" fill="#0c910b">EGFP</text>
<text transform="translate(649.15,78.18) scale(1,1.03)" font-size="51.63" font-weight="bold" fill="#f90c0c">NeuN</text>
<text transform="translate(1005.21,78.69) scale(1,1.02)" font-size="50.73" font-weight="bold" fill="#0c910b">EGFP</text>
<text transform="translate(1141.49,77.92) scale(1,0.67)" font-size="73.17" font-weight="bold" fill="#111">/</text>
<text transform="translate(1158.85,78.4)" font-size="51.63" font-weight="bold" fill="#f90c0c">NeuN</text>
<text transform="translate(54.9,319.64) rotate(-90) scale(1,0.98)" font-size="52.19" font-weight="bold" fill="#000">Control</text>
<text transform="translate(53.69,596.48) rotate(-90) scale(1,0.98)" font-size="53.35" font-weight="bold" fill="#000">-NeuN</text>
<text transform="translate(18.4,739.67) scale(1,0.9)" font-size="60.73" font-weight="bold" fill="#000">b</text>
<line x1="235.4" y1="739.3" x2="235.4" y2="1427.5" stroke="#000" stroke-width="3.4" stroke-linecap="butt"/>
<line x1="233.7" y1="1425.8" x2="1244" y2="1425.8" stroke="#000" stroke-width="3.4" stroke-linecap="butt"/>
<line x1="224.2" y1="1425.8" x2="235.4" y2="1425.8" stroke="#000" stroke-width="3" stroke-linecap="butt"/>
<text transform="translate(178.8,1444.1)" font-size="43.7" font-weight="normal" fill="#000">0</text>
<line x1="224.2" y1="1349.69" x2="235.4" y2="1349.69" stroke="#000" stroke-width="3" stroke-linecap="butt"/>
<text transform="translate(154.5,1367.99)" font-size="43.7" font-weight="normal" fill="#000">10</text>
<line x1="224.2" y1="1273.58" x2="235.4" y2="1273.58" stroke="#000" stroke-width="3" stroke-linecap="butt"/>
<text transform="translate(154.5,1291.88)" font-size="43.7" font-weight="normal" fill="#000">20</text>
<line x1="224.2" y1="1197.47" x2="235.4" y2="1197.47" stroke="#000" stroke-width="3" stroke-linecap="butt"/>
<text transform="translate(154.5,1215.77)" font-size="43.7" font-weight="normal" fill="#000">30</text>
<line x1="224.2" y1="1121.36" x2="235.4" y2="1121.36" stroke="#000" stroke-width="3" stroke-linecap="butt"/>
<text transform="translate(154.5,1139.66)" font-size="43.7" font-weight="normal" fill="#000">40</text>
<line x1="224.2" y1="1045.24" x2="235.4" y2="1045.24" stroke="#000" stroke-width="3" stroke-linecap="butt"/>
<text transform="translate(154.5,1063.54)" font-size="43.7" font-weight="normal" fill="#000">50</text>
<line x1="224.2" y1="969.13" x2="235.4" y2="969.13" stroke="#000" stroke-width="3" stroke-linecap="butt"/>
<text transform="translate(154.5,987.43)" font-size="43.7" font-weight="normal" fill="#000">60</text>
<line x1="224.2" y1="893.02" x2="235.4" y2="893.02" stroke="#000" stroke-width="3" stroke-linecap="butt"/>
<text transform="translate(154.5,911.32)" font-size="43.7" font-weight="normal" fill="#000">70</text>
<line x1="224.2" y1="816.91" x2="235.4" y2="816.91" stroke="#000" stroke-width="3" stroke-linecap="butt"/>
<text transform="translate(154.5,835.21)" font-size="43.7" font-weight="normal" fill="#000">80</text>
<line x1="224.2" y1="740.8" x2="235.4" y2="740.8" stroke="#000" stroke-width="3" stroke-linecap="butt"/>
<text transform="translate(154.5,759.1)" font-size="43.7" font-weight="normal" fill="#000">90</text>
<text transform="translate(97.9,1307.63) rotate(-90) scale(1,1.04)" font-size="51.25" font-weight="bold" fill="#000">Number of cells (%)</text>
<text transform="translate(273.75,1504.63) rotate(-90)" font-size="35.5" font-weight="normal" fill="#000">&lt;10</text>
<text transform="translate(322.05,1535.21) rotate(-90)" font-size="35.5" font-weight="normal" fill="#000">10-20</text>
<text transform="translate(370.35,1535.21) rotate(-90)" font-size="35.5" font-weight="normal" fill="#000">20-30</text>
<text transform="translate(418.65,1535.21) rotate(-90)" font-size="35.5" font-weight="normal" fill="#000">30-40</text>
<text transform="translate(466.95,1535.21) rotate(-90)" font-size="35.5" font-weight="normal" fill="#000">40-50</text>
<text transform="translate(515.25,1535.21) rotate(-90)" font-size="35.5" font-weight="normal" fill="#000">50-60</text>
<text transform="translate(563.55,1535.21) rotate(-90)" font-size="35.5" font-weight="normal" fill="#000">60-70</text>
<text transform="translate(611.85,1535.21) rotate(-90)" font-size="35.5" font-weight="normal" fill="#000">70-80</text>
<text transform="translate(660.15,1535.21) rotate(-90)" font-size="35.5" font-weight="normal" fill="#000">80-90</text>
<text transform="translate(708.45,1554.95) rotate(-90)" font-size="35.5" font-weight="normal" fill="#000">90-100</text>
<text transform="translate(756.75,1574.7) rotate(-90)" font-size="35.5" font-weight="normal" fill="#000">100-110</text>
<text transform="translate(805.05,1574.7) rotate(-90)" font-size="35.5" font-weight="normal" fill="#000">110-120</text>
<text transform="translate(853.35,1574.7) rotate(-90)" font-size="35.5" font-weight="normal" fill="#000">120-130</text>
<text transform="translate(901.65,1574.7) rotate(-90)" font-size="35.5" font-weight="normal" fill="#000">130-140</text>
<text transform="translate(949.95,1574.7) rotate(-90)" font-size="35.5" font-weight="normal" fill="#000">140-150</text>
<text transform="translate(998.25,1574.7) rotate(-90)" font-size="35.5" font-weight="normal" fill="#000">150-160</text>
<text transform="translate(1046.55,1574.7) rotate(-90)" font-size="35.5" font-weight="normal" fill="#000">160-170</text>
<text transform="translate(1094.85,1574.7) rotate(-90)" font-size="35.5" font-weight="normal" fill="#000">170-180</text>
<text transform="translate(1143.15,1574.7) rotate(-90)" font-size="35.5" font-weight="normal" fill="#000">180-190</text>
<text transform="translate(1191.45,1574.7) rotate(-90)" font-size="35.5" font-weight="normal" fill="#000">190-200</text>
<text transform="translate(1239.75,1515.27) rotate(-90)" font-size="35.5" font-weight="normal" fill="#000">200-</text>
<text transform="translate(408.05,1641)" font-size="51.57" font-weight="bold" fill="#000">NeuN expression level</text>
<line x1="259.5" y1="1402.43" x2="259.5" y2="1368.34" stroke="#000" stroke-width="2.6" stroke-linecap="butt"/>
<line x1="254.1" y1="1368.34" x2="264.9" y2="1368.34" stroke="#000" stroke-width="2.6" stroke-linecap="butt"/>
<line x1="259.5" y1="854.97" x2="259.5" y2="795.6" stroke="#000" stroke-width="2.6" stroke-linecap="butt"/>
<line x1="254.1" y1="795.6" x2="264.9" y2="795.6" stroke="#000" stroke-width="2.6" stroke-linecap="butt"/>
<line x1="307.8" y1="1398.4" x2="307.8" y2="1377.09" stroke="#000" stroke-width="2.6" stroke-linecap="butt"/>
<line x1="302.4" y1="1377.09" x2="313.2" y2="1377.09" stroke="#000" stroke-width="2.6" stroke-linecap="butt"/>
<line x1="307.8" y1="1326.32" x2="307.8" y2="1289.56" stroke="#000" stroke-width="2.6" stroke-linecap="butt"/>
<line x1="302.4" y1="1289.56" x2="313.2" y2="1289.56" stroke="#000" stroke-width="2.6" stroke-linecap="butt"/>
<line x1="356.1" y1="1404.11" x2="356.1" y2="1357.3" stroke="#000" stroke-width="2.6" stroke-linecap="butt"/>
<line x1="350.7" y1="1357.3" x2="361.5" y2="1357.3" stroke="#000" stroke-width="2.6" stroke-linecap="butt"/>
<line x1="356.1" y1="1392.69" x2="356.1" y2="1382.42" stroke="#000" stroke-width="2.6" stroke-linecap="butt"/>
<line x1="350.7" y1="1382.42" x2="361.5" y2="1382.42" stroke="#000" stroke-width="2.6" stroke-linecap="butt"/>
<line x1="404.4" y1="1415.52" x2="404.4" y2="1394.59" stroke="#000" stroke-width="2.6" stroke-linecap="butt"/>
<line x1="399" y1="1394.59" x2="409.8" y2="1394.59" stroke="#000" stroke-width="2.6" stroke-linecap="butt"/>
<line x1="404.4" y1="1409.06" x2="404.4" y2="1399.92" stroke="#000" stroke-width="2.6" stroke-linecap="butt"/>
<line x1="399" y1="1399.92" x2="409.8" y2="1399.92" stroke="#000" stroke-width="2.6" stroke-linecap="butt"/>
<line x1="452.7" y1="1388.51" x2="452.7" y2="1367.96" stroke="#000" stroke-width="2.6" stroke-linecap="butt"/>
<line x1="447.3" y1="1367.96" x2="458.1" y2="1367.96" stroke="#000" stroke-width="2.6" stroke-linecap="butt"/>
<line x1="452.7" y1="1405.63" x2="452.7" y2="1387.74" stroke="#000" stroke-width="2.6" stroke-linecap="butt"/>
<line x1="447.3" y1="1387.74" x2="458.1" y2="1387.74" stroke="#000" stroke-width="2.6" stroke-linecap="butt"/>
<line x1="501" y1="1364.15" x2="501" y2="1320.01" stroke="#000" stroke-width="2.6" stroke-linecap="butt"/>
<line x1="495.6" y1="1320.01" x2="506.4" y2="1320.01" stroke="#000" stroke-width="2.6" stroke-linecap="butt"/>
<line x1="501" y1="1419.71" x2="501" y2="1415.14" stroke="#000" stroke-width="2.6" stroke-linecap="butt"/>
<line x1="495.6" y1="1415.14" x2="506.4" y2="1415.14" stroke="#000" stroke-width="2.6" stroke-linecap="butt"/>
<line x1="549.3" y1="1365.67" x2="549.3" y2="1345.12" stroke="#000" stroke-width="2.6" stroke-linecap="butt"/>
<line x1="543.9" y1="1345.12" x2="554.7" y2="1345.12" stroke="#000" stroke-width="2.6" stroke-linecap="butt"/>
<line x1="549.3" y1="1419.71" x2="549.3" y2="1413.24" stroke="#000" stroke-width="2.6" stroke-linecap="butt"/>
<line x1="543.9" y1="1413.24" x2="554.7" y2="1413.24" stroke="#000" stroke-width="2.6" stroke-linecap="butt"/>
<line x1="597.6" y1="1374.42" x2="597.6" y2="1348.93" stroke="#000" stroke-width="2.6" stroke-linecap="butt"/>
<line x1="592.2" y1="1348.93" x2="603" y2="1348.93" stroke="#000" stroke-width="2.6" stroke-linecap="butt"/>
<line x1="597.6" y1="1424.28" x2="597.6" y2="1420.85" stroke="#000" stroke-width="2.6" stroke-linecap="butt"/>
<line x1="592.2" y1="1420.85" x2="603" y2="1420.85" stroke="#000" stroke-width="2.6" stroke-linecap="butt"/>
<line x1="645.9" y1="1364.15" x2="645.9" y2="1341.32" stroke="#000" stroke-width="2.6" stroke-linecap="butt"/>
<line x1="640.5" y1="1341.32" x2="651.3" y2="1341.32" stroke="#000" stroke-width="2.6" stroke-linecap="butt"/>
<line x1="645.9" y1="1422.38" x2="645.9" y2="1418.95" stroke="#000" stroke-width="2.6" stroke-linecap="butt"/>
<line x1="640.5" y1="1418.95" x2="651.3" y2="1418.95" stroke="#000" stroke-width="2.6" stroke-linecap="butt"/>
<line x1="694.2" y1="1362.63" x2="694.2" y2="1329.14" stroke="#000" stroke-width="2.6" stroke-linecap="butt"/>
<line x1="688.8" y1="1329.14" x2="699.6" y2="1329.14" stroke="#000" stroke-width="2.6" stroke-linecap="butt"/>
<line x1="742.5" y1="1348.17" x2="742.5" y2="1314.68" stroke="#000" stroke-width="2.6" stroke-linecap="butt"/>
<line x1="737.1" y1="1314.68" x2="747.9" y2="1314.68" stroke="#000" stroke-width="2.6" stroke-linecap="butt"/>
<line x1="790.8" y1="1369.48" x2="790.8" y2="1335.99" stroke="#000" stroke-width="2.6" stroke-linecap="butt"/>
<line x1="785.4" y1="1335.99" x2="796.2" y2="1335.99" stroke="#000" stroke-width="2.6" stroke-linecap="butt"/>
<line x1="839.1" y1="1362.25" x2="839.1" y2="1339.03" stroke="#000" stroke-width="2.6" stroke-linecap="butt"/>
<line x1="833.7" y1="1339.03" x2="844.5" y2="1339.03" stroke="#000" stroke-width="2.6" stroke-linecap="butt"/>
<line x1="839.1" y1="1424.66" x2="839.1" y2="1422.38" stroke="#000" stroke-width="2.6" stroke-linecap="butt"/>
<line x1="833.7" y1="1422.38" x2="844.5" y2="1422.38" stroke="#000" stroke-width="2.6" stroke-linecap="butt"/>
<line x1="887.4" y1="1389.27" x2="887.4" y2="1358.82" stroke="#000" stroke-width="2.6" stroke-linecap="butt"/>
<line x1="882" y1="1358.82" x2="892.8" y2="1358.82" stroke="#000" stroke-width="2.6" stroke-linecap="butt"/>
<line x1="935.7" y1="1418.19" x2="935.7" y2="1409.06" stroke="#000" stroke-width="2.6" stroke-linecap="butt"/>
<line x1="930.3" y1="1409.06" x2="941.1" y2="1409.06" stroke="#000" stroke-width="2.6" stroke-linecap="butt"/>
<line x1="984" y1="1401.44" x2="984" y2="1384.7" stroke="#000" stroke-width="2.6" stroke-linecap="butt"/>
<line x1="978.6" y1="1384.7" x2="989.4" y2="1384.7" stroke="#000" stroke-width="2.6" stroke-linecap="butt"/>
<line x1="1032.3" y1="1399.92" x2="1032.3" y2="1377.09" stroke="#000" stroke-width="2.6" stroke-linecap="butt"/>
<line x1="1026.9" y1="1377.09" x2="1037.7" y2="1377.09" stroke="#000" stroke-width="2.6" stroke-linecap="butt"/>
<line x1="1080.6" y1="1409.82" x2="1080.6" y2="1384.7" stroke="#000" stroke-width="2.6" stroke-linecap="butt"/>
<line x1="1075.2" y1="1384.7" x2="1086" y2="1384.7" stroke="#000" stroke-width="2.6" stroke-linecap="butt"/>
<line x1="1128.9" y1="1418.95" x2="1128.9" y2="1410.58" stroke="#000" stroke-width="2.6" stroke-linecap="butt"/>
<line x1="1123.5" y1="1410.58" x2="1134.3" y2="1410.58" stroke="#000" stroke-width="2.6" stroke-linecap="butt"/>
<line x1="1177.2" y1="1414.38" x2="1177.2" y2="1404.11" stroke="#000" stroke-width="2.6" stroke-linecap="butt"/>
<line x1="1171.8" y1="1404.11" x2="1182.6" y2="1404.11" stroke="#000" stroke-width="2.6" stroke-linecap="butt"/>
<line x1="1225.5" y1="1399.92" x2="1225.5" y2="1366.43" stroke="#000" stroke-width="2.6" stroke-linecap="butt"/>
<line x1="1220.1" y1="1366.43" x2="1230.9" y2="1366.43" stroke="#000" stroke-width="2.6" stroke-linecap="butt"/>
<line x1="1225.5" y1="1419.79" x2="1225.5" y2="1409.21" stroke="#000" stroke-width="2.6" stroke-linecap="butt"/>
<line x1="1220.1" y1="1409.21" x2="1230.9" y2="1409.21" stroke="#000" stroke-width="2.6" stroke-linecap="butt"/>
<polyline points="259.5,1402.43 307.8,1398.4 356.1,1404.11 404.4,1415.52 452.7,1388.51 501,1364.15 549.3,1365.67 597.6,1374.42 645.9,1364.15 694.2,1362.63 742.5,1348.17 790.8,1369.48 839.1,1362.25 887.4,1389.27 935.7,1418.19 984,1401.44 1032.3,1399.92 1080.6,1409.82 1128.9,1418.95 1177.2,1414.38 1225.5,1399.92" fill="none" stroke="#6196cc" stroke-width="6.4" stroke-linejoin="round" stroke-linecap="round"/>
<polyline points="259.5,854.97 307.8,1326.32 356.1,1392.69 404.4,1409.06 452.7,1405.63 501,1419.71 549.3,1419.71 597.6,1424.28 645.9,1422.38 694.2,1424.66 742.5,1424.66 790.8,1424.66 839.1,1424.66 887.4,1424.66 935.7,1424.66 984,1424.66 1032.3,1424.66 1080.6,1424.66 1128.9,1424.66 1177.2,1423.52 1225.5,1419.79" fill="none" stroke="#cf625a" stroke-width="6.4" stroke-linejoin="round" stroke-linecap="round"/>
<line x1="873.3" y1="987.7" x2="924.6" y2="987.7" stroke="#6196cc" stroke-width="9.3" stroke-linecap="round"/>
<line x1="873.3" y1="1071" x2="924.6" y2="1071" stroke="#cf625a" stroke-width="9.3" stroke-linecap="round"/>
<text transform="translate(947.82,1006.61) scale(1,0.97)" font-size="62.8" font-weight="bold" fill="#1a1011">Control</text>
<text transform="translate(946.53,1089.38) scale(1,1.01)" font-size="63.25" font-weight="bold" fill="#1a1011">-NeuN</text>
<text transform="translate(2.92,1719.55) scale(1,0.86)" font-size="53.3" font-weight="bold" fill="#000">c</text>
<rect x="74.7" y="1688" width="533.5" height="132" rx="3" fill="none" stroke="#000" stroke-width="4.2"/>
<text transform="translate(97.64,1744.8)" font-size="45.8" font-weight="bold" fill="#000">NeuN expression level</text>
<text transform="translate(264.31,1796.14) scale(1,1.02)" font-size="45.82" font-weight="bold" fill="#000">100-110</text>
<line x1="163.4" y1="1850.7" x2="163.4" y2="2499.9" stroke="#000" stroke-width="3" stroke-linecap="butt"/>
<line x1="153" y1="2498.1" x2="552.8" y2="2498.1" stroke="#000" stroke-width="3.6" stroke-linecap="butt"/>
<line x1="153.2" y1="2498.1" x2="163.4" y2="2498.1" stroke="#000" stroke-width="3" stroke-linecap="butt"/>
<text transform="translate(107.79,2516.2)" font-size="43.7" font-weight="bold" fill="#000">0</text>
<line x1="153.2" y1="2417.36" x2="163.4" y2="2417.36" stroke="#000" stroke-width="3" stroke-linecap="butt"/>
<text transform="translate(107.75,2435.46)" font-size="43.7" font-weight="bold" fill="#000">2</text>
<line x1="153.2" y1="2336.62" x2="163.4" y2="2336.62" stroke="#000" stroke-width="3" stroke-linecap="butt"/>
<text transform="translate(106.23,2354.73)" font-size="43.7" font-weight="bold" fill="#000">4</text>
<line x1="153.2" y1="2255.89" x2="163.4" y2="2255.89" stroke="#000" stroke-width="3" stroke-linecap="butt"/>
<text transform="translate(107.58,2273.99)" font-size="43.7" font-weight="bold" fill="#000">6</text>
<line x1="153.2" y1="2175.15" x2="163.4" y2="2175.15" stroke="#000" stroke-width="3" stroke-linecap="butt"/>
<text transform="translate(107.34,2193.25)" font-size="43.7" font-weight="bold" fill="#000">8</text>
<line x1="153.2" y1="2094.41" x2="163.4" y2="2094.41" stroke="#000" stroke-width="3" stroke-linecap="butt"/>
<text transform="translate(83.48,2112.51)" font-size="43.7" font-weight="bold" fill="#000">10</text>
<line x1="153.2" y1="2013.67" x2="163.4" y2="2013.67" stroke="#000" stroke-width="3" stroke-linecap="butt"/>
<text transform="translate(83.44,2031.77)" font-size="43.7" font-weight="bold" fill="#000">12</text>
<line x1="153.2" y1="1932.94" x2="163.4" y2="1932.94" stroke="#000" stroke-width="3" stroke-linecap="butt"/>
<text transform="translate(81.93,1951.04)" font-size="43.7" font-weight="bold" fill="#000">14</text>
<line x1="153.2" y1="1852.2" x2="163.4" y2="1852.2" stroke="#000" stroke-width="3" stroke-linecap="butt"/>
<text transform="translate(83.27,1870.3)" font-size="43.7" font-weight="bold" fill="#000">16</text>
<rect x="223.1" y="2091.59" width="76.4" height="406.51" fill="#000"/>
<line x1="259.8" y1="2091.59" x2="259.8" y2="1910.73" stroke="#000" stroke-width="1.8" stroke-linecap="butt"/>
<line x1="254.6" y1="1910.73" x2="265.2" y2="1910.73" stroke="#000" stroke-width="1.8" stroke-linecap="butt"/>
<text transform="translate(54.8,2427.83) rotate(-90) scale(1,1.04)" font-size="51.33" font-weight="bold" fill="#000">Number of cells (%)</text>
<text transform="translate(169.01,2549.8)" font-size="45.98" font-weight="bold" fill="#000">Control</text>
<text transform="translate(401.4,2549.8)" font-size="46.16" font-weight="bold" fill="#1a1011">-NeuN</text>
<line x1="477.7" y1="2466.3" x2="477.7" y2="2455.8" stroke="#000" stroke-width="3.6" stroke-linecap="butt"/>
<line x1="477.7" y1="2466.3" x2="487.79" y2="2463.41" stroke="#000" stroke-width="3.6" stroke-linecap="butt"/>
<line x1="477.7" y1="2466.3" x2="467.61" y2="2463.41" stroke="#000" stroke-width="3.6" stroke-linecap="butt"/>
<line x1="477.7" y1="2466.3" x2="483.15" y2="2474.08" stroke="#000" stroke-width="3.6" stroke-linecap="butt"/>
<line x1="477.7" y1="2466.3" x2="472.25" y2="2474.08" stroke="#000" stroke-width="3.6" stroke-linecap="butt"/>
<text transform="translate(649.29,1725.34) scale(1,0.77)" font-size="61.12" font-weight="bold" fill="#000">d</text>
<rect x="731" y="1688.2" width="535.6" height="132.2" rx="3" fill="none" stroke="#000" stroke-width="4.2"/>
<text transform="translate(753.74,1744.3)" font-size="45.81" font-weight="bold" fill="#000">NeuN expression level</text>
<text transform="translate(963.51,1795.77) scale(1,0.92)" font-size="47.36" font-weight="bold" fill="#000">&lt;10</text>
<line x1="834.1" y1="1849.6" x2="834.1" y2="2499.1" stroke="#000" stroke-width="3" stroke-linecap="butt"/>
<line x1="823.5" y1="2497.3" x2="1237" y2="2497.3" stroke="#000" stroke-width="3.6" stroke-linecap="butt"/>
<line x1="823.8" y1="2497.3" x2="834.1" y2="2497.3" stroke="#000" stroke-width="3" stroke-linecap="butt"/>
<text transform="translate(777.69,2515.4)" font-size="43.7" font-weight="bold" fill="#000">0</text>
<line x1="823.8" y1="2389.6" x2="834.1" y2="2389.6" stroke="#000" stroke-width="3" stroke-linecap="butt"/>
<text transform="translate(752.81,2407.7)" font-size="43.7" font-weight="bold" fill="#000">15</text>
<line x1="823.8" y1="2281.9" x2="834.1" y2="2281.9" stroke="#000" stroke-width="3" stroke-linecap="butt"/>
<text transform="translate(753.38,2300)" font-size="43.7" font-weight="bold" fill="#000">30</text>
<line x1="823.8" y1="2174.2" x2="834.1" y2="2174.2" stroke="#000" stroke-width="3" stroke-linecap="butt"/>
<text transform="translate(752.81,2192.3)" font-size="43.7" font-weight="bold" fill="#000">45</text>
<line x1="823.8" y1="2066.5" x2="834.1" y2="2066.5" stroke="#000" stroke-width="3" stroke-linecap="butt"/>
<text transform="translate(753.38,2084.6)" font-size="43.7" font-weight="bold" fill="#000">60</text>
<line x1="823.8" y1="1958.8" x2="834.1" y2="1958.8" stroke="#000" stroke-width="3" stroke-linecap="butt"/>
<text transform="translate(752.81,1976.9)" font-size="43.7" font-weight="bold" fill="#000">75</text>
<line x1="823.8" y1="1851.1" x2="834.1" y2="1851.1" stroke="#000" stroke-width="3" stroke-linecap="butt"/>
<text transform="translate(753.38,1869.2)" font-size="43.7" font-weight="bold" fill="#000">90</text>
<rect x="895.1" y="2474.9" width="80.7" height="22.4" fill="#000"/>
<line x1="934.4" y1="2474.9" x2="934.4" y2="2444.17" stroke="#000" stroke-width="1.8" stroke-linecap="butt"/>
<line x1="929.2" y1="2444.17" x2="939.8" y2="2444.17" stroke="#000" stroke-width="1.8" stroke-linecap="butt"/>
<rect x="1097.2" y="1959.88" width="80.7" height="537.42" fill="#000"/>
<line x1="1136.8" y1="1959.88" x2="1136.8" y2="1902.8" stroke="#000" stroke-width="1.8" stroke-linecap="butt"/>
<line x1="1131.2" y1="1902.8" x2="1141.8" y2="1902.8" stroke="#000" stroke-width="1.8" stroke-linecap="butt"/>
<text transform="translate(708.5,2427.83) rotate(-90) scale(1,1.04)" font-size="51.34" font-weight="bold" fill="#000">Number of cells (%)</text>
<text transform="translate(849.02,2549.3)" font-size="45.8" font-weight="bold" fill="#000">Control</text>
<text transform="translate(1080.2,2549.3)" font-size="46.09" font-weight="bold" fill="#1a1011">-NeuN</text>
<line x1="1124.3" y1="1875.4" x2="1124.3" y2="1864.27" stroke="#000" stroke-width="3.6" stroke-linecap="butt"/>
<line x1="1124.3" y1="1875.4" x2="1134.62" y2="1871.23" stroke="#000" stroke-width="3.6" stroke-linecap="butt"/>
<line x1="1124.3" y1="1875.4" x2="1113.98" y2="1871.23" stroke="#000" stroke-width="3.6" stroke-linecap="butt"/>
<line x1="1124.3" y1="1875.4" x2="1130.5" y2="1883.34" stroke="#000" stroke-width="3.6" stroke-linecap="butt"/>
<line x1="1124.3" y1="1875.4" x2="1118.1" y2="1883.34" stroke="#000" stroke-width="3.6" stroke-linecap="butt"/>
<line x1="1151" y1="1875.4" x2="1151" y2="1864.27" stroke="#000" stroke-width="3.6" stroke-linecap="butt"/>
<line x1="1151" y1="1875.4" x2="1161.32" y2="1871.23" stroke="#000" stroke-width="3.6" stroke-linecap="butt"/>
<line x1="1151" y1="1875.4" x2="1140.68" y2="1871.23" stroke="#000" stroke-width="3.6" stroke-linecap="butt"/>
<line x1="1151" y1="1875.4" x2="1157.2" y2="1883.34" stroke="#000" stroke-width="3.6" stroke-linecap="butt"/>
<line x1="1151" y1="1875.4" x2="1144.8" y2="1883.34" stroke="#000" stroke-width="3.6" stroke-linecap="butt"/>
</svg>
</body></html>
